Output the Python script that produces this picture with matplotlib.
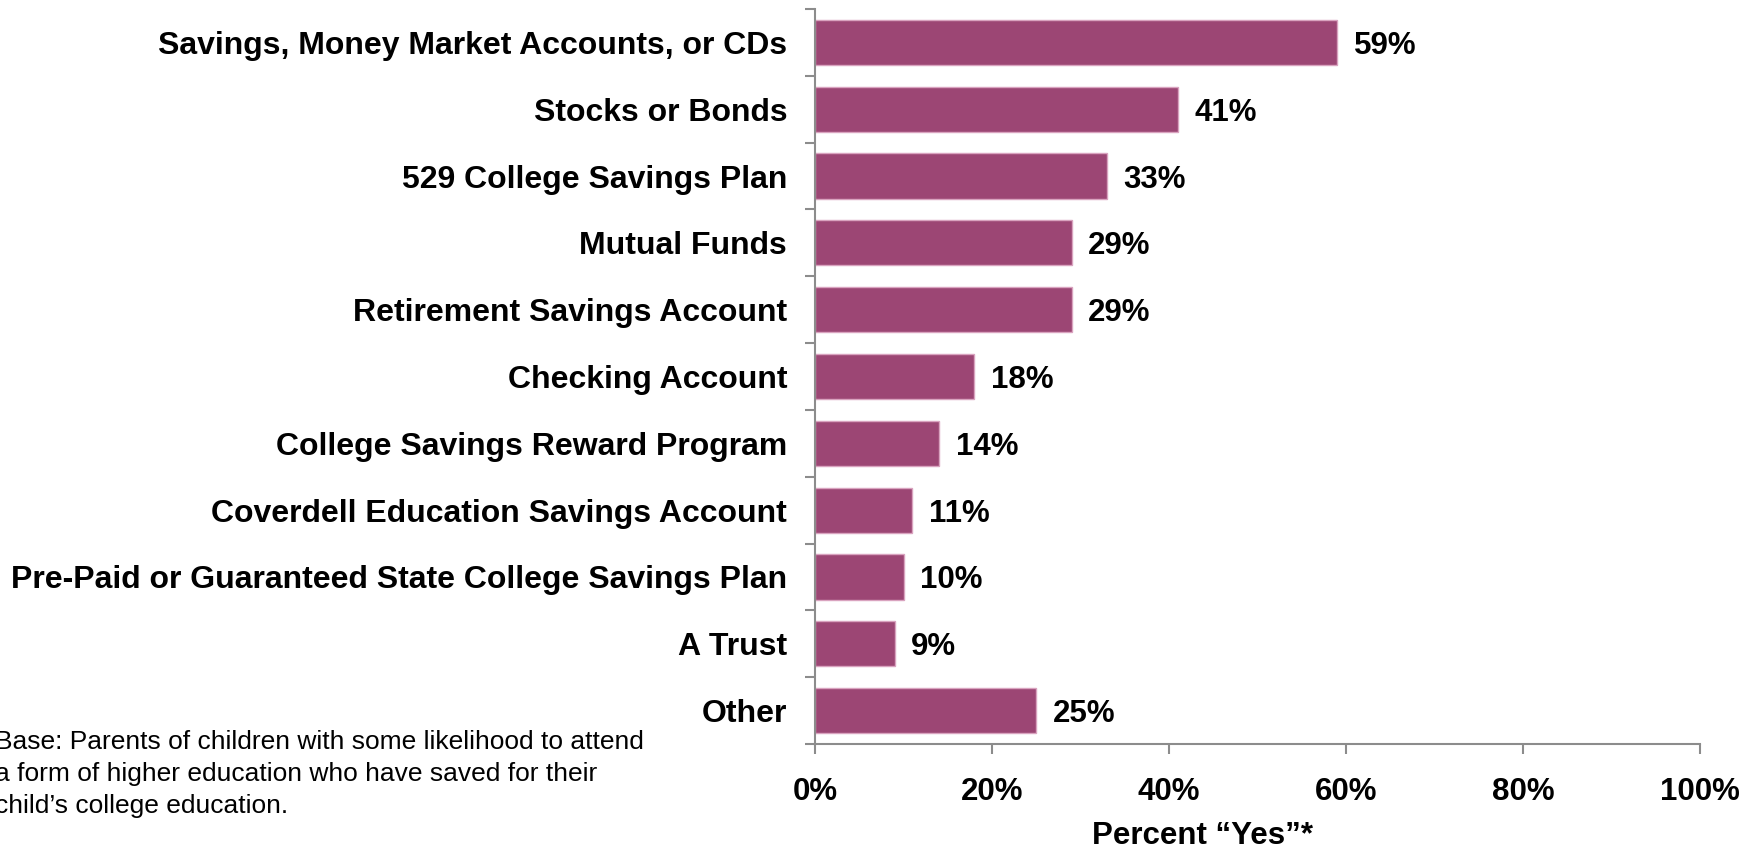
import numpy as np
import matplotlib.pyplot as plt

plt.rcParams['font.family'] = ['Liberation Sans', 'DejaVu Sans']

categories = [
    "Savings, Money Market Accounts, or CDs",
    "Stocks or Bonds",
    "529 College Savings Plan",
    "Mutual Funds",
    "Retirement Savings Account",
    "Checking Account",
    "College Savings Reward Program",
    "Coverdell Education Savings Account",
    "Pre-Paid or Guaranteed State College Savings Plan",
    "A Trust",
    "Other",
]
percent_yes = [59, 41, 33, 29, 29, 18, 14, 11, 10, 9, 25]
x_ticks = [0, 20, 40, 60, 80, 100]
x_tick_labels = ["0%", "20%", "40%", "60%", "80%", "100%"]

footnote = ("Base: Parents of children with some likelihood to attend\n"
            "a form of higher education who have saved for their\n"
            "child\u2019s college education.")

W, H = 1757, 850
bar_color = "#9c4674"
edge_color = "#d9a3bf"
axis_gray = "#8c8c8c"
fs = 22.5

fig = plt.figure(figsize=(W / 100, H / 100), dpi=100)
ax = fig.add_axes([815 / W, 1 - 744 / H, (1700 - 815) / W, (744 - 9) / H])

ypos = np.arange(len(categories))
ax.barh(ypos, percent_yes, height=0.675, color=bar_color,
        edgecolor=edge_color, linewidth=1.0)
for y, v in zip(ypos, percent_yes):
    ax.annotate(f"{v}%", (v, y), xytext=(12, 0), textcoords="offset points",
                ha="left", va="center_baseline", fontsize=fs, fontweight="bold")

ax.set_xlim(0, 100)
ax.set_ylim(len(categories) - 0.5, -0.5)

ax.set_yticks(ypos)
ax.set_yticklabels(categories, fontsize=23, fontweight="bold")
ax.set_yticks(np.arange(-0.5, len(categories)), minor=True)
ax.tick_params(axis="y", which="major", length=0, pad=20)
ax.tick_params(axis="y", which="minor", length=7, width=1.5,
               color=axis_gray, direction="out")

ax.set_xticks(x_ticks)
ax.set_xticklabels(x_tick_labels, fontsize=fs, fontweight="bold")
ax.tick_params(axis="x", which="major", length=7, width=1.5,
               color=axis_gray, direction="out", pad=17)

for side in ("top", "right"):
    ax.spines[side].set_visible(False)
for side in ("left", "bottom"):
    ax.spines[side].set_color(axis_gray)
    ax.spines[side].set_linewidth(1.5)

# axis title sits left of the axis centre, close to the bottom edge
fig.text(1202 / W, 1 - 844 / H, "Percent \u201cYes\u201d*", ha="center",
         va="baseline", fontsize=fs, fontweight="bold")

fig.text(-5 / W, 1 - 774 / H, footnote, ha="left", va="center",
         fontsize=19, linespacing=1.4)

fig.savefig("out.png", dpi=100)
